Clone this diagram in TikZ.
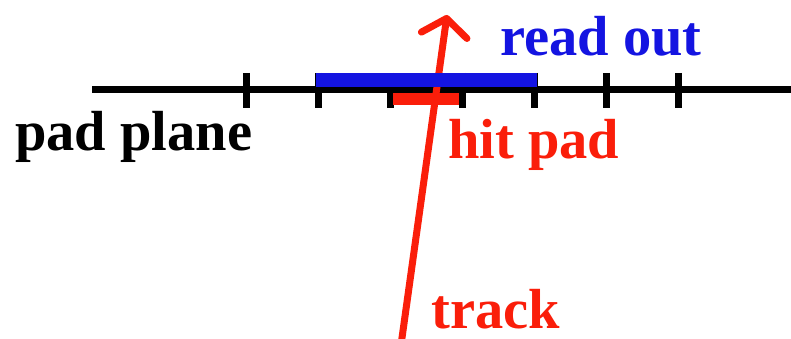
\documentclass[tikz,border=0pt]{standalone}
\usepackage{fontspec}
\setmainfont{Liberation Serif}
\usetikzlibrary{arrows.meta}
\definecolor{trackred}{RGB}{250,30,10}
\definecolor{readblue}{RGB}{20,20,225}
\tikzset{tag/.style={inner sep=0pt,anchor=base west,font=\fontsize{56.5}{60}\selectfont\bfseries}}

\begin{document}
\begin{tikzpicture}[x=1pt,y=-1pt]
  \useasboundingbox (0,0) rectangle (791,339);
  \coordinate (planeL) at (92,90);
  \coordinate (planeR) at (791,90);
  \draw[line width=7pt] (planeL) -- (planeR);
  \foreach \x in {246,318,...,678}
    \draw[line width=7pt] (\x,73) -- (\x,108);
  \fill[trackred] (393,93) rectangle (459,105);
  \coordinate (trackin) at (401,345);
  \coordinate (trackout) at (447,15);
  \draw[trackred,line width=7pt,-{Straight Barb[length=17pt,width=46pt,round]}] (trackin) -- (trackout);
  \fill[readblue] (316,73.5) rectangle (537,87);
  \node[tag] (plane) at (15,150) {pad plane};
  \node[tag,readblue] (readout) at (500,56) {read out};
  \node[tag,trackred] (hit) at (448,158) {hit pad};
  \node[tag,trackred] (track) at (431,328) {track};
\end{tikzpicture}
\end{document}
